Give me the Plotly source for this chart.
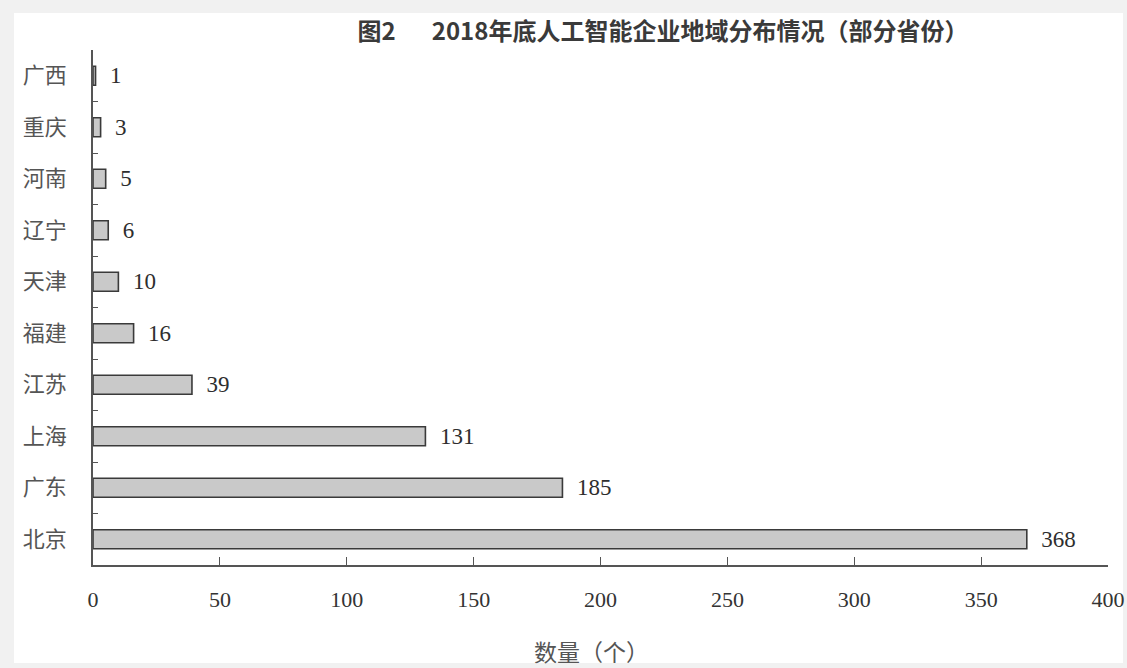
import plotly.graph_objects as go

provinces = ["广西", "重庆", "河南", "辽宁", "天津", "福建", "江苏", "上海", "广东", "北京"]
counts = [1, 3, 5, 6, 10, 16, 39, 131, 185, 368]
x_ticks = [0, 50, 100, 150, 200, 250, 300, 350, 400]
title_text = "图2\u3000\u20022018年底人工智能企业地域分布情况（部分省份）"
x_title = "数量（个）"

W, H = 1127, 668
# plot area in screen pixels: x 93..1108, y 50..565
L = 93
R = W - 1108
T = 50
B = H - 565
pw, ph = W - L - R, H - T - B

def px_x(p):
    return (p - L) / pw

def px_y(p):
    return (H - B - p) / ph

fig = go.Figure()
fig.add_trace(go.Bar(
    y=provinces, x=counts, orientation="h",
    width=0.37,
    marker=dict(color="#c9c9c9", line=dict(color="#3a3a3a", width=1.6)),
    text=counts, texttemplate="  %{text}", textposition="outside",
    constraintext="none", cliponaxis=False,
    textfont=dict(family="Liberation Serif", size=23, color="#2e2e2e"),
))

fig.update_layout(
    width=W, height=H,
    margin=dict(l=L, r=R, t=T, b=B, autoexpand=False),
    paper_bgcolor="#f1f1f1", plot_bgcolor="rgba(0,0,0,0)",
    showlegend=False,
    title=dict(text=title_text, x=px_x(663), xanchor="center", xref="paper",
               y=1 - 32 / H, yanchor="middle",
               font=dict(family="Noto Sans CJK SC", size=24, color="#3a3a3a", weight="bold")),
    shapes=[dict(type="rect", xref="paper", yref="paper", layer="below",
                 x0=px_x(14), x1=px_x(1123), y0=px_y(663), y1=px_y(13),
                 fillcolor="white", line=dict(width=0))],
    annotations=[dict(text=x_title, xref="paper", yref="paper", x=px_x(591), y=px_y(651),
                      showarrow=False, xanchor="center", yanchor="middle",
                      font=dict(family="Noto Sans CJK SC", size=23, color="#555555"))],
)

fig.update_xaxes(
    range=[0, 400], tickvals=x_ticks, ticktext=[str(v) for v in x_ticks],
    showgrid=False, zeroline=False, automargin=False,
    showline=True, linecolor="#555555", linewidth=1.5,
    ticks="inside", ticklen=8, tickcolor="#555555", tickwidth=1.3,
    tickfont=dict(family="Liberation Serif", size=22, color="#333333"),
    ticklabelstandoff=14, ticklabeloverflow="allow",
)
fig.update_yaxes(
    categoryorder="array", categoryarray=provinces[::-1],
    autorange=False, range=[-0.5, len(provinces) - 0.5],
    showgrid=False, zeroline=False, automargin=False,
    showline=True, linecolor="#555555", linewidth=1.5,
    ticks="inside", tickson="boundaries", ticklen=5, tickcolor="#555555", tickwidth=1.3,
    tickfont=dict(family="Noto Sans CJK SC", size=22, color="#555555"),
    ticklabelstandoff=20,
)

fig.write_html(
    "out.html",
    config={"displayModeBar": False},
    post_script="document.body.style.margin='0';document.body.style.overflow='hidden';",
)
